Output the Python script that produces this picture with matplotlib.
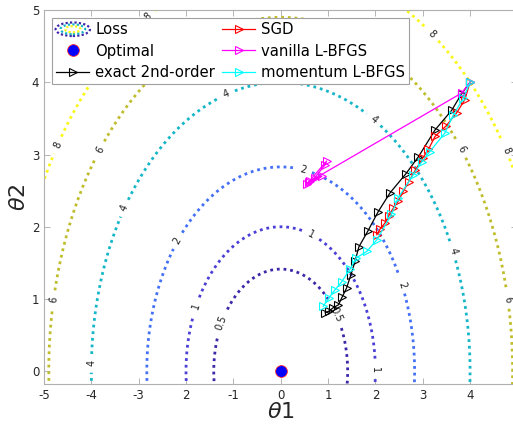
import numpy as np
import matplotlib
matplotlib.use("Agg")
import matplotlib.pyplot as plt
from matplotlib.legend_handler import HandlerBase
from matplotlib.patches import Ellipse
from matplotlib.lines import Line2D

# ---------------- data ----------------
levels = [0.5, 1, 2, 4, 6, 8]
level_colors = ['#3e26a8', '#4a3fd6', '#4370f5', '#14b6c8', '#bfbd2c', '#f8f81a']
level_fmt = {0.5: '0.5', 1: '1', 2: '2', 4: '4', 6: '6', 8: '8'}

label_pos = [(-4.71, 3.13), (-2.85, 4.94), (3.19, 4.66), (4.72, 3.05),
             (-4.77, 0.99), (-3.82, 3.07), (3.82, 3.07), (4.77, 0.99),
             (-1.14, 3.83), (-3.25, 2.24), (-3.99, 0.11), (1.96, 3.48), (3.65, 1.66),
             (-2.16, 1.80), (0.48, 2.79), (2.56, 1.20),
             (-1.78, 0.90), (0.65, 1.89), (1.99, 0.02),
             (-1.25, 0.67), (1.15, 0.78)]

optimal_x = [0.0]
optimal_y = [0.0]

exact_x = [4.00, 3.82, 3.61, 3.26, 2.91, 2.64, 2.31, 2.06, 1.84, 1.65, 1.57, 1.48, 1.39, 1.30, 1.22, 1.11, 1.01, 0.94]
exact_y = [4.00, 3.84, 3.61, 3.34, 2.97, 2.73, 2.47, 2.21, 1.94, 1.72, 1.52, 1.33, 1.15, 1.03, 0.92, 0.88, 0.83, 0.81]

sgd_x = [4.00, 3.89, 3.72, 3.50, 3.26, 3.12, 3.00, 2.84, 2.70, 2.59, 2.48, 2.38, 2.28, 2.20, 2.10, 2.03]
sgd_y = [4.00, 3.76, 3.58, 3.40, 3.25, 3.07, 2.95, 2.78, 2.62, 2.49, 2.35, 2.26, 2.15, 2.05, 1.97, 1.89]

vanilla_x = [4.00, 3.82, 0.62, 0.87, 0.55, 0.97, 0.94, 0.72, 0.60]
vanilla_y = [4.00, 3.85, 2.63, 2.70, 2.59, 2.91, 2.86, 2.68, 2.62]

momentum_x = [4.00, 3.86, 3.65, 3.47, 3.15, 2.98, 2.80, 2.48, 2.34, 2.03, 1.82, 1.60, 1.46, 1.29, 1.15, 1.01, 0.90]
momentum_y = [4.00, 3.78, 3.55, 3.30, 3.04, 2.90, 2.72, 2.40, 2.17, 1.82, 1.66, 1.57, 1.41, 1.24, 1.13, 1.01, 0.90]

xticks = [-5, -4, -3, -2, -1, 0, 1, 2, 3, 4, 5]
xticklabels = ['-5', '-4', '-3', '2', '-1', '0', '1', '2', '3', '4', '']
yticks = [0, 1, 2, 3, 4, 5]

# ---------------- figure ----------------
W, H = 513, 428
fig = plt.figure(figsize=(W / 100, H / 100), dpi=100)
ax = fig.add_axes([44 / W, 1 - 384.3 / H, (517.4 - 44) / W, (384.3 - 10) / H])

gx = np.linspace(-5.5, 5.5, 500)
gy = np.linspace(-0.5, 5.5, 400)
X, Y = np.meshgrid(gx, gy)
Z = (X ** 2 + Y ** 2) / 4.0

cs = ax.contour(X, Y, Z, levels=levels, colors=level_colors, linewidths=2.0)
cs.set_linestyle((0, (1, 1.4)))
ax.clabel(cs, levels, manual=label_pos, inline=True, fontsize=7, fmt=level_fmt, colors='#202020')

ax.plot(optimal_x, optimal_y, 'o', mfc='#0000ff', mec='#ff3030', ms=8.5, mew=0.6, zorder=5)

style = dict(marker='>', mfc='none', ms=6, lw=0.9, mew=0.8, zorder=4)
ax.plot(exact_x, exact_y, color='black', **style)
ax.plot(sgd_x, sgd_y, color='#ff0000', **style)
ax.plot(vanilla_x, vanilla_y, color='#ff00ff', **style)
ax.plot(momentum_x, momentum_y, color='#00ffff', **style)

ax.set_xlim(-5, 5)
ax.set_ylim(-0.18, 5)
ax.set_xticks(xticks)
ax.set_xticklabels(xticklabels)
ax.set_yticks(yticks)
ax.tick_params(direction='in', top=True, right=True, length=4, width=0.6,
               colors='#a8a8a8', labelcolor='#262626', labelsize=8.5)
for s in ax.spines.values():
    s.set_color('#b0b0b0')
    s.set_linewidth(0.8)

ax.set_xlabel(r'$\theta$1', fontsize=16, color='#262626', labelpad=0)
ax.set_ylabel(r'$\theta$2', fontsize=16, color='#262626', labelpad=2)


# ---------------- legend ----------------
class LossProxy:
    pass


class LossHandler(HandlerBase):
    def create_artists(self, legend, orig_handle, xdescent, ydescent, width,
                       height, fontsize, trans):
        cx = width / 2 - xdescent
        cy = height / 2 - ydescent
        arts = []
        scales = [1.0, 0.72, 0.45]
        cols = ['#3e26a8', '#14b6c8', '#f8f81a']
        for s, c in zip(scales, cols):
            e = Ellipse((cx, cy), width * 1.05 * s, height * 1.3 * s, fill=False,
                        edgecolor=c, linestyle=(0, (1, 1)), linewidth=1.6,
                        transform=trans)
            arts.append(e)
        return arts


h_loss = LossProxy()
h_opt = Line2D([], [], ls='none', marker='o', mfc='#0000ff', mec='#ff3030', ms=8.5, mew=0.6)
h_exact = Line2D([], [], color='black', **style)
h_sgd = Line2D([], [], color='#ff0000', **style)
h_van = Line2D([], [], color='#ff00ff', **style)
h_mom = Line2D([], [], color='#00ffff', **style)
for h in [h_exact, h_sgd, h_van, h_mom]:
    h.set_markevery([1])

leg = fig.legend([h_loss, h_opt, h_exact, h_sgd, h_van, h_mom],
                 ['Loss', 'Optimal', 'exact 2nd-order', 'SGD', 'vanilla L-BFGS', 'momentum L-BFGS'],
                 handler_map={LossProxy: LossHandler()},
                 loc='upper left', bbox_to_anchor=(52 / W, 1 - 18 / H), borderaxespad=0,
                 ncol=2, fontsize=10.7, fancybox=False, framealpha=1, edgecolor='#a0a0a0',
                 handlelength=2.2, handletextpad=0.4, columnspacing=0.5,
                 labelspacing=0.42, borderpad=0.3)
leg.get_frame().set_linewidth(0.8)

fig.savefig('out.png', dpi=100)
